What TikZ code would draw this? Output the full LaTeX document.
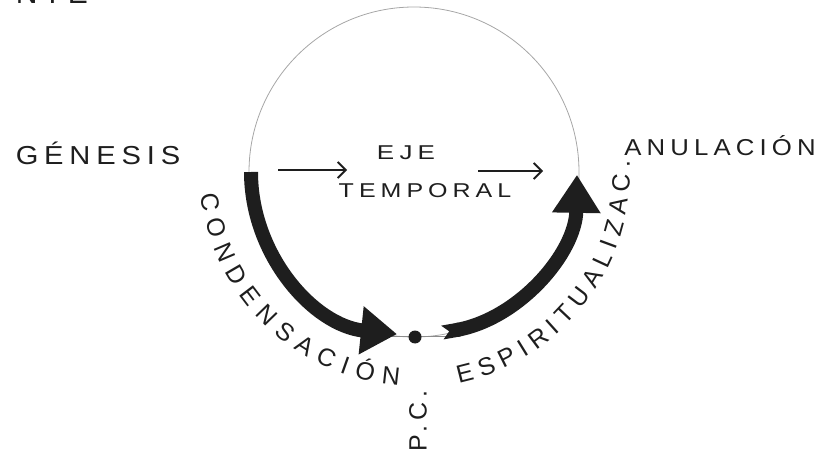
\documentclass[tikz,border=0pt]{standalone}
\usepackage{fontspec}
\newfontfamily\hand[LetterSpace=20]{Liberation Sans}
\usetikzlibrary{arrows.meta,decorations.text}
\definecolor{ink}{HTML}{1E1E1E}
\tikzset{
  lbl/.style={text=ink, inner sep=0pt},
  thickarc/.style={draw=ink, line width=14pt},
  thinring/.style={draw=black!35, line width=0.8pt},
  axisarrow/.style={draw=ink, line width=1.8pt, -{Straight Barb[length=8pt,width=16pt]}},
}
\begin{document}
\begin{tikzpicture}[x=1pt,y=1pt]
\useasboundingbox (0,0) rectangle (827,461);
\coordinate (C) at (414,289);
% thin circle
\draw[thinring] (C) circle[radius=165];
% horizontal thin line through dot
\coordinate (pl) at (392,125);
\coordinate (pr) at (448,125);
\draw[draw=black!45, line width=0.8pt] (pl) -- (pr);
% thick arcs
\draw[thickarc, -{Triangle[length=36pt,width=46pt]}] (C) ++(180:163) arc[start angle=180, end angle=264, radius=163];
\draw[thickarc, {Triangle Cap[reversed]}-{Triangle[length=38pt,width=46pt]}] (C) ++(280:163) arc[start angle=280, end angle=359, radius=163];
% dot
\node[circle, fill=ink, minimum size=13pt, inner sep=0pt] (dot) at (415,124) {};
% labels
\node[lbl, font={\hand\fontsize{26}{26}\selectfont}, xscale=1.12] (genesis) at (98,308) {GÉNESIS};
\node[lbl, font={\hand\fontsize{23}{23}\selectfont}, xscale=1.12] (anul) at (720,315) {ANULACIÓN};
\node[lbl, font={\hand\fontsize{20}{20}\selectfont}, xscale=1.3] (eje) at (406,308) {EJE};
\node[lbl, font={\hand\fontsize{20}{20}\selectfont}, xscale=1.25] (temporal) at (425,270) {TEMPORAL};
\coordinate (a1s) at (278,291);
\coordinate (a1e) at (347,291);
\coordinate (a2s) at (478,290);
\coordinate (a2e) at (543,290);
\draw[axisarrow] (a1s) -- (a1e);
\draw[axisarrow] (a2s) -- (a2e);
\node[lbl, font={\hand\fontsize{25}{25}\selectfont}, rotate=90] (pc) at (418,40) {P.C.};
\node[lbl, font={\hand\fontsize{30}{30}\selectfont}, anchor=base east] (nte) at (88,457) {NTE};
% curved texts
\path[decorate, decoration={text along path, text align=fit to path,
  text={|\hand\fontsize{25}{25}\selectfont\color{ink}|CONDENSACIÓN}}]
  (C) ++(186:214) arc[start angle=186, end angle=266, radius=214];
\path[decorate, decoration={text along path, text align=fit to path,
  text={|\hand\fontsize{25}{25}\selectfont\color{ink}|ESPIRITUALIZAC.}}]
  (C) ++(282:216) arc[start angle=282, end angle=363, radius=216];
\end{tikzpicture}
\end{document}
